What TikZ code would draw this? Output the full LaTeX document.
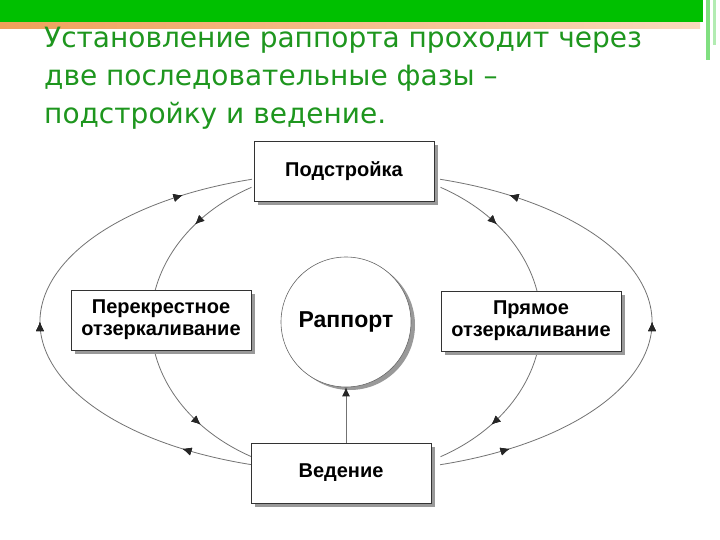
\documentclass[tikz,border=0pt]{standalone}
\usepackage{fontspec}
\setmainfont{Liberation Sans}
\newfontfamily\titlefont{DejaVu Sans}
\usetikzlibrary{shadows,decorations.markings,arrows.meta}
\definecolor{titlegreen}{RGB}{30,150,30}
\definecolor{bandgreen}{RGB}{0,192,0}
\definecolor{bandorange}{RGB}{240,160,90}
\tikzset{
  boxnode/.style={draw=black!80,line width=0.6pt,fill=white,minimum width=180pt,minimum height=60pt,align=center,font=\bfseries\fontsize{20}{22}\selectfont,
    drop shadow={shadow xshift=4pt,shadow yshift=-4pt,fill=black!40,opacity=1}},
  ringnode/.style={circle,draw=black!60,line width=0.6pt,fill=white,minimum size=130pt,inner sep=0pt,font=\bfseries\fontsize{23}{25}\selectfont,
    drop shadow={shadow xshift=4pt,shadow yshift=-3pt,fill=black!40,opacity=1}},
  flow/.style={draw=black!55,line width=0.8pt},
  tip/.style={decoration={markings,mark=at position #1 with {\arrow{Latex[length=9pt,width=8pt,black!85]}}},postaction={decorate}},
}
\begin{document}
\begin{tikzpicture}[x=1pt,y=-1pt]
\useasboundingbox (0,0) rectangle (720,540);
\fill[white] (0,0) rectangle (720,540);
% top band
\shade[left color=bandorange,right color=bandorange!40] (0,20) rectangle (700,29);
\fill[bandgreen] (0,0) rectangle (703,22);
\fill[bandgreen!50] (706,0) rectangle (710,60);
\fill[bandgreen!30] (713,0) rectangle (716,45);
% title
\node[anchor=north west,inner sep=0pt,text=titlegreen,font=\titlefont\fontsize{28}{38}\selectfont,align=left] (title) at (44,27)
  {Установление раппорта проходит через\\две последовательные фазы –\\подстройку и ведение.};
% arcs
\coordinate (c) at (346,322);
\draw[flow,tip=0.13,tip=0.5,tip=0.87] (c) ++(107.9:306 and 150) arc[start angle=107.9,end angle=252.1,x radius=306,y radius=150];
\draw[flow,tip=0.13,tip=0.5,tip=0.87] (c) ++(72.1:306 and 150) arc[start angle=72.1,end angle=-72.1,x radius=306,y radius=150];
\draw[flow,tip=0.19,tip=0.83] (c) ++(-119:195 and 154) arc[start angle=-119,end angle=-241,x radius=195,y radius=154];
\draw[flow,tip=0.19,tip=0.83] (c) ++(-61:195 and 154) arc[start angle=-61,end angle=61,x radius=195,y radius=154];
% nodes
\node[boxnode] (pod) at (344,171) {Подстройка};
\node[boxnode] (left) at (161,320) {Перекрестное\\отзеркаливание};
\node[boxnode] (right) at (531,321) {Прямое\\отзеркаливание};
\node[boxnode] (ved) at (341,473) {Ведение};
\node[ringnode] (rap) at (346,322) {Раппорт};
\draw[flow,-{Latex[length=9pt,width=8pt,black!85]}] (ved.north -| rap.south) -- (rap.south);
\end{tikzpicture}
\end{document}
